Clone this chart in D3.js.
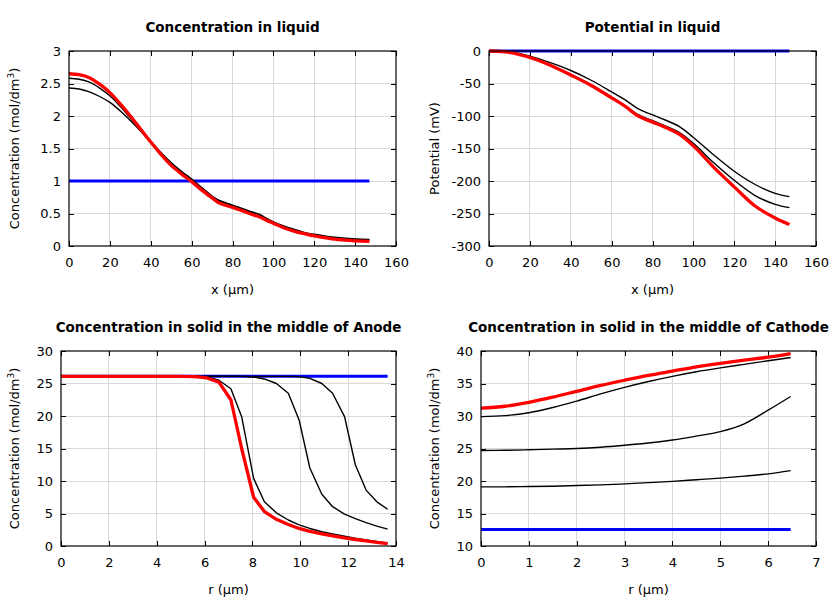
<!DOCTYPE html>
<html><head><meta charset="utf-8">
<script src="https://cdn.jsdelivr.net/npm/d3@7"></script>
<style>
body{margin:0;background:#fff;}
text{font-family:"DejaVu Sans",sans-serif;}
</style></head>
<body><svg id="c" width="840" height="600"></svg>
<script>
// ---- Panel 1: Concentration in liquid ----
const xLiquid = [0,5,10,15,20,25,30,35,40,45,50,55,60,65,70,73,80,85,90,93,97,100,105,110,115,120,125,130,135,140,147];
const cLiqInit = xLiquid.map(()=>1.0);
const cLiqA = [2.58,2.565,2.52,2.43,2.31,2.15,1.97,1.78,1.60,1.43,1.28,1.15,1.03,0.90,0.77,0.71,0.63,0.575,0.52,0.49,0.42,0.37,0.31,0.26,0.21,0.18,0.155,0.135,0.12,0.11,0.10];
const cLiqB = [2.43,2.415,2.37,2.30,2.21,2.08,1.93,1.77,1.61,1.44,1.28,1.14,1.02,0.89,0.76,0.70,0.62,0.565,0.51,0.48,0.41,0.36,0.30,0.25,0.20,0.17,0.145,0.125,0.11,0.10,0.09];
const cLiqEnd = [2.65,2.635,2.59,2.49,2.36,2.19,2.00,1.80,1.60,1.41,1.24,1.11,0.99,0.86,0.74,0.67,0.595,0.54,0.48,0.45,0.39,0.35,0.28,0.23,0.19,0.155,0.13,0.105,0.09,0.08,0.07];

// ---- Panel 2: Potential in liquid ----
const xPot = [0,10,20,30,40,50,60,67,73,83,93,100,110,120,130,140,147];
const potInit = xPot.map(()=>0);
const potA = [0,-1.5,-8,-18,-30,-45,-63,-76,-89,-102,-116,-133,-160,-185,-205,-219,-224];
const potB = [0,-2,-10,-22,-36,-52,-71,-85,-98,-111,-125,-142,-172,-199,-222,-236,-241];
const potEnd = [0,-2,-10,-22,-37,-53,-72,-86,-100,-113,-128,-146,-179,-209,-238,-257,-267];

// ---- Panel 3: Solid, middle of anode ----
const rAnode = [0,1,2,3,4,5,5.6,6.1,6.6,7.1,7.55,8.05,8.5,9.0,9.5,9.95,10.4,10.9,11.35,11.85,12.3,12.75,13.2,13.65];
const anInit = rAnode.map(()=>26.1);
const anA = [26.1,26.1,26.1,26.1,26.1,26.1,26.1,26.0,25.5,24.2,19.9,10.4,6.8,5.1,4.0,3.25,2.7,2.2,1.85,1.5,1.2,0.95,0.7,0.45];
const anB = [26.1,26.1,26.1,26.1,26.1,26.1,26.1,26.1,26.1,26.1,26.1,26.0,25.7,25.0,23.5,19.4,12.0,7.95,6.05,4.9,4.2,3.6,3.05,2.6];
const anC = [26.1,26.1,26.1,26.1,26.1,26.1,26.1,26.1,26.1,26.1,26.1,26.1,26.1,26.1,26.1,26.05,25.8,25.0,23.5,19.9,12.5,8.6,6.8,5.65];
const anEnd = [26.1,26.1,26.1,26.1,26.1,26.1,26.05,25.85,25.2,22.5,15.0,7.5,5.3,4.1,3.3,2.7,2.25,1.85,1.55,1.25,1.0,0.8,0.55,0.35];

// ---- Panel 4: Solid, middle of cathode ----
const rCathode = [0,0.5,1,1.5,2,2.5,3,3.5,4,4.5,5,5.5,6,6.47];
const caInit = rCathode.map(()=>12.55);
const caA = [19.1,19.1,19.15,19.2,19.3,19.4,19.55,19.75,19.95,20.2,20.45,20.75,21.1,21.6];
const caB = [24.7,24.72,24.8,24.9,25.0,25.2,25.5,25.85,26.3,26.9,27.6,28.8,30.9,33.0];
const caC = [29.9,30.05,30.5,31.3,32.3,33.4,34.4,35.3,36.1,36.8,37.4,37.95,38.5,39.0];
const caEnd = [31.2,31.5,32.1,32.9,33.8,34.7,35.5,36.25,36.9,37.55,38.1,38.6,39.05,39.6];

const svg = d3.select("#c");
const GRID = "#d9d9d9";

function panel(cfg){
  const {left,right,top,bottom,xDomain,xTicks,yDomain,yTicks,title,xLabel,yLabel,yLabelX,series,curve,yFmt} = cfg;
  const x = d3.scaleLinear().domain(xDomain).range([left,right]);
  const y = d3.scaleLinear().domain(yDomain).range([bottom,top]);
  const g = svg.append("g");
  // grid
  g.append("g").selectAll("line").data(xTicks.slice(1,-1)).join("line")
    .attr("x1",d=>x(d)).attr("x2",d=>x(d)).attr("y1",top).attr("y2",bottom)
    .attr("stroke",GRID).attr("stroke-width",1).attr("shape-rendering","crispEdges");
  g.append("g").selectAll("line").data(yTicks.slice(1,-1)).join("line")
    .attr("y1",d=>y(d)).attr("y2",d=>y(d)).attr("x1",left).attr("x2",right)
    .attr("stroke",GRID).attr("stroke-width",1).attr("shape-rendering","crispEdges");
  // axes (inward ticks, mirrored)
  const ax = (sel)=>{sel.select(".domain").remove(); sel.selectAll("line").attr("stroke","#000").attr("shape-rendering","crispEdges");};
  g.append("g").attr("transform",`translate(0,${bottom})`)
    .call(d3.axisBottom(x).tickValues(xTicks).tickSize(-5).tickPadding(12).tickFormat(d3.format("d")))
    .call(ax).call(s=>s.selectAll("text").attr("font-size",13).attr("font-family","DejaVu Sans").attr("fill","#000"));
  g.append("g").attr("transform",`translate(0,${top})`)
    .call(d3.axisTop(x).tickValues(xTicks).tickSize(-5).tickFormat(""))
    .call(ax);
  g.append("g").attr("transform",`translate(${left},0)`)
    .call(d3.axisLeft(y).tickValues(yTicks).tickSize(-5).tickPadding(8).tickFormat(yFmt))
    .call(ax).call(s=>s.selectAll("text").attr("font-size",13).attr("font-family","DejaVu Sans").attr("fill","#000"));
  g.append("g").attr("transform",`translate(${right},0)`)
    .call(d3.axisRight(y).tickValues(yTicks).tickSize(-5).tickFormat(""))
    .call(ax);
  // series
  const clipId = "clip"+Math.round(left)+"_"+Math.round(top);
  svg.append("clipPath").attr("id",clipId).append("rect")
    .attr("x",left).attr("y",top-2).attr("width",right-left).attr("height",bottom-top+4);
  const lg = g.append("g").attr("clip-path",`url(#${clipId})`);
  series.forEach(s=>{
    const line = d3.line().x((d,i)=>x(s.x[i])).y(d=>y(d)).curve(curve);
    lg.append("path").attr("d",line(s.y)).attr("fill","none")
      .attr("stroke",s.color).attr("stroke-width",s.w).attr("stroke-linejoin","round");
  });
  // frame
  g.append("rect").attr("x",left).attr("y",top).attr("width",right-left).attr("height",bottom-top)
    .attr("fill","none").attr("stroke","#000").attr("stroke-width",1.2);
  // titles
  g.append("text").attr("x",(left+right)/2).attr("y",top-19).attr("text-anchor","middle")
    .attr("font-size",13.5).attr("font-weight","bold").text(title);
  g.append("text").attr("x",(left+right)/2).attr("y",bottom+48).attr("text-anchor","middle")
    .attr("font-size",13).text(xLabel);
  const yl = g.append("text").attr("transform",`translate(${yLabelX},${(top+bottom)/2}) rotate(-90)`)
    .attr("text-anchor","middle").attr("font-size",13);
  if (yLabel.sup){
    yl.append("tspan").text(yLabel.main);
    yl.append("tspan").attr("font-size",9).attr("dy",-5).text(yLabel.sup);
    yl.append("tspan").attr("dy",5).text(yLabel.after);
  } else yl.text(yLabel.main);
}

const concLabel = {main:"Concentration (mol/dm",sup:"3",after:")"};
const fmtAuto = d=>String(d);
const smooth = d3.curveCatmullRom.alpha(0.5);

panel({left:69,right:396,top:51,bottom:246,xDomain:[0,160],xTicks:d3.range(0,161,20),
  yDomain:[0,3],yTicks:[0,0.5,1,1.5,2,2.5,3],yFmt:fmtAuto,
  title:"Concentration in liquid",xLabel:"x (µm)",yLabel:concLabel,yLabelX:19,curve:smooth,
  series:[{x:xLiquid,y:cLiqInit,color:"#0000ff",w:3},{x:xLiquid,y:cLiqA,color:"#000",w:1.4},
          {x:xLiquid,y:cLiqB,color:"#000",w:1.4},{x:xLiquid,y:cLiqEnd,color:"#ff0000",w:3.3}]});

panel({left:489,right:816,top:51,bottom:246,xDomain:[0,160],xTicks:d3.range(0,161,20),
  yDomain:[-300,0],yTicks:d3.range(-300,1,50),yFmt:fmtAuto,
  title:"Potential in liquid",xLabel:"x (µm)",yLabel:{main:"Potential (mV)"},yLabelX:439,curve:smooth,
  series:[{x:xPot,y:potInit,color:"#0000ff",w:3},{x:xPot,y:potA,color:"#000",w:1.4},
          {x:xPot,y:potB,color:"#000",w:1.4},{x:xPot,y:potEnd,color:"#ff0000",w:3.3}]});

panel({left:61,right:396,top:351,bottom:546,xDomain:[0,14],xTicks:d3.range(0,15,2),
  yDomain:[0,30],yTicks:d3.range(0,31,5),yFmt:fmtAuto,
  title:"Concentration in solid in the middle of Anode",xLabel:"r (µm)",yLabel:concLabel,yLabelX:19,curve:d3.curveLinear,
  series:[{x:rAnode,y:anInit,color:"#0000ff",w:3},{x:rAnode,y:anA,color:"#000",w:1.4},
          {x:rAnode,y:anB,color:"#000",w:1.4},{x:rAnode,y:anC,color:"#000",w:1.4},
          {x:rAnode,y:anEnd,color:"#ff0000",w:3.3}]});

panel({left:481,right:816,top:351,bottom:546,xDomain:[0,7],xTicks:d3.range(0,8,1),
  yDomain:[10,40],yTicks:d3.range(10,41,5),yFmt:fmtAuto,
  title:"Concentration in solid in the middle of Cathode",xLabel:"r (µm)",yLabel:concLabel,yLabelX:439,curve:smooth,
  series:[{x:rCathode,y:caInit,color:"#0000ff",w:3},{x:rCathode,y:caA,color:"#000",w:1.4},
          {x:rCathode,y:caB,color:"#000",w:1.4},{x:rCathode,y:caC,color:"#000",w:1.4},
          {x:rCathode,y:caEnd,color:"#ff0000",w:3.3}]});
</script></body></html>
